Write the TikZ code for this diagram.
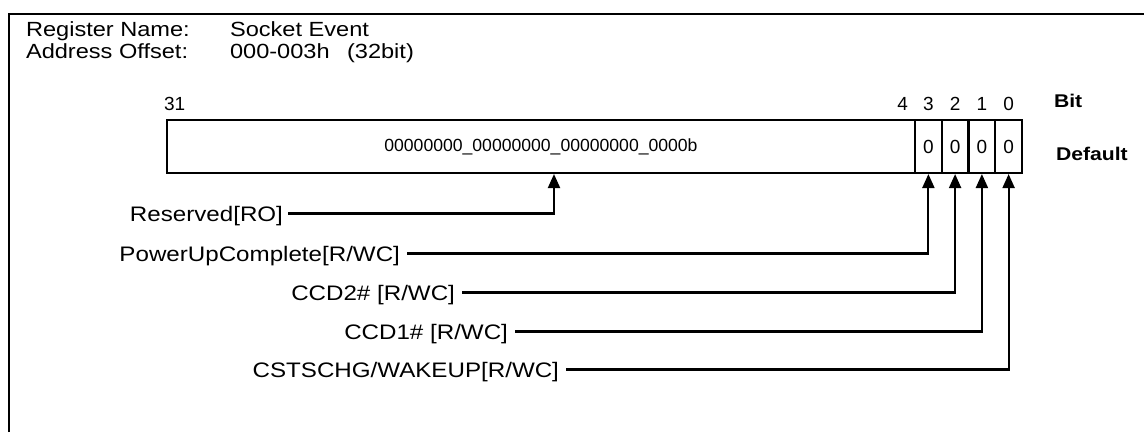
\documentclass[tikz,border=0pt]{standalone}
\usepackage{fontspec}
\setmainfont{Liberation Sans}[FakeStretch=1.15]
\newfontfamily\plainsans{Liberation Sans}
\usetikzlibrary{arrows.meta}
\begin{document}
\begin{tikzpicture}[x=1pt,y=-1pt, line width=2.1pt,
 lbl/.style={font=\fontsize{21}{24}\selectfont, inner sep=0pt, anchor=base east},
 hdr/.style={font=\fontsize{20.5}{24}\selectfont, inner sep=0pt, anchor=base west},
 bitnum/.style={font=\plainsans\fontsize{19}{20}\selectfont, inner sep=0pt, anchor=base},
 cell/.style={draw, minimum height=53pt, inner sep=0pt, font=\plainsans\fontsize{19}{20}\selectfont},
 boldlbl/.style={font=\bfseries\fontsize{18.4}{20}\selectfont, inner sep=0pt, anchor=base west},
 conn/.style={-{Triangle[length=14pt,width=12pt]}},
]
\useasboundingbox (0,0) rectangle (1144,432);
\draw (9,432) -- (9,14) -- (1144,14);
% header
\node[hdr] (rn) at (25,36) {Register Name:};
\node[hdr] (rv) at (229,36) {Socket Event};
\node[hdr] (an) at (25,58) {Address Offset:};
\node[hdr] (av) at (229,58) {000-003h};
\node[hdr] (aw) at (346,58) {(32bit)};
% register
\node[cell, minimum width=748pt, font=\plainsans\fontsize{17.6}{20}\selectfont] (res) at (541,146.5) {00000000\_00000000\_00000000\_0000b};
\node[cell, minimum width=26.75pt] (b3) at (928.4,146.5) {0};
\node[cell, minimum width=26.75pt] (b2) at (955.1,146.5) {0};
\node[cell, minimum width=26.75pt] (b1) at (981.9,146.5) {0};
\node[cell, minimum width=26.75pt] (b0) at (1008.6,146.5) {0};
% bit numbers
\node[bitnum, anchor=base west] (n31) at (163,110) {31};
\node[bitnum, anchor=base east] (n4) at (909,110) {4};
\node[bitnum] (n3) at (928.4,110) {3};
\node[bitnum] (n2) at (955.1,110) {2};
\node[bitnum] (n1) at (981.9,110) {1};
\node[bitnum] (n0) at (1008.6,110) {0};
\node[boldlbl] (bit) at (1053,107) {Bit};
\node[boldlbl] (def) at (1055,160) {Default};
% labels
\node[lbl] (lr) at (284,221) {Reserved[RO]};
\node[lbl] (lp) at (401,261) {PowerUpComplete[R/WC]};
\node[lbl] (l2) at (456,300) {CCD2\# [R/WC]};
\node[lbl] (l1) at (509,339) {CCD1\# [R/WC]};
\node[lbl] (lc) at (560,377) {CSTSCHG/WAKEUP[R/WC]};
% connectors
\draw[conn] ([xshift=4pt,yshift=7.5pt]lr.base east) -| ([xshift=13pt]res.south);
\draw[conn] ([xshift=6pt,yshift=7.5pt]lp.base east) -| (b3.south);
\draw[conn] ([xshift=6pt,yshift=7.5pt]l2.base east) -| (b2.south);
\draw[conn] ([xshift=6pt,yshift=7.5pt]l1.base east) -| (b1.south);
\draw[conn] ([xshift=6pt,yshift=7.5pt]lc.base east) -| (b0.south);
\end{tikzpicture}
\end{document}
